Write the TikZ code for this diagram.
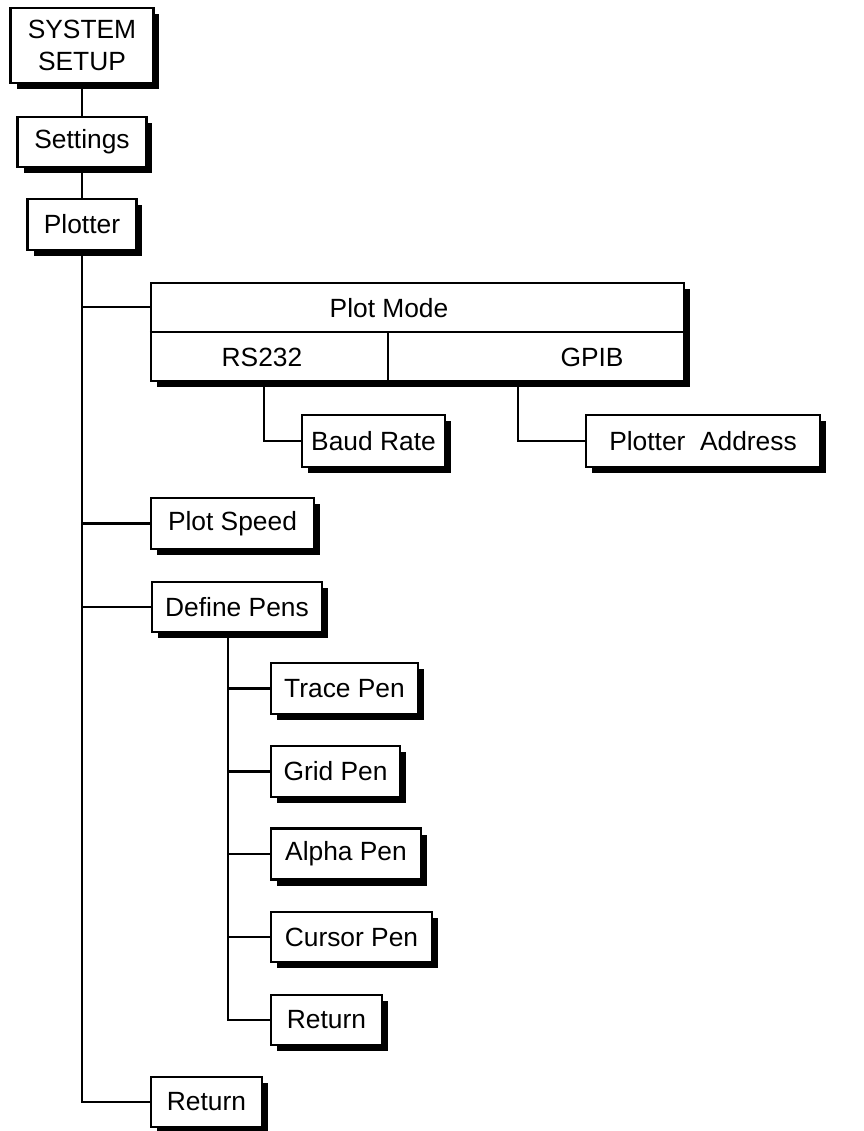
\documentclass[tikz,border=0pt]{standalone}
\usepackage{fontspec}
\setmainfont{Liberation Sans}
\usetikzlibrary{calc,shadows}
\definecolor{Ink}{HTML}{000000}
\tikzset{
  menu/.style={
    draw=Ink, line width=1.3pt, fill=white, inner sep=0pt, align=center,
    font=\fontsize{15}{18}\selectfont,
    drop shadow={shadow xshift=0.12cm, shadow yshift=-0.12cm, opacity=1, fill=Ink}
  },
  label/.style={inner sep=0pt, font=\fontsize{15}{18}\selectfont},
  link/.style={draw=Ink, line width=1.3pt}
}
\begin{document}
\begin{tikzpicture}[x=0.02cm,y=-0.02cm]
  \useasboundingbox (0,0) rectangle (863,1131);
  % main chain
  \node[menu,minimum width=2.86cm,minimum height=1.50cm] (setup) at (82,45.5) {SYSTEM\\SETUP};
  \node[menu,minimum width=2.58cm,minimum height=1.00cm] (settings) at (82,142) {Settings};
  \node[menu,minimum width=2.18cm,minimum height=1.02cm] (plotter) at (82,224.5) {Plotter};
  \draw[link] (setup) -- (settings);
  \draw[link] (settings) -- (plotter);
  % plot mode block
  \node[menu,minimum width=10.66cm,minimum height=1.96cm] (mode) at (417.5,332) {};
  \coordinate (modein) at ($(mode.north west)!.5!(mode.west)$);
  \coordinate (split) at ($(mode.south west)+(238,0)$);
  \draw[link] (mode.west) -- (mode.east);
  \draw[link] (split) -- (split |- mode.center);
  \node[label] (modett) at (389,308) {Plot Mode};
  \node[label] (rs) at (262,357) {RS232};
  \node[label] (gpib) at (592,357) {GPIB};
  \node[menu,minimum width=2.86cm,minimum height=1.04cm] (baud) at (373.5,441) {Baud Rate};
  \node[menu,minimum width=4.68cm,minimum height=1.04cm] (addr) at (703,441) {Plotter~~Address};
  \coordinate (rsdrop) at ($(mode.south west)+(114,0)$);
  \coordinate (gpdrop) at ($(mode.south west)+(368,0)$);
  \draw[link] (rsdrop) |- (baud.west);
  \draw[link] (gpdrop) |- (addr.west);
  % other entries
  \node[menu,minimum width=3.26cm,minimum height=1.02cm] (speed) at (232.5,523.5) {Plot Speed};
  \node[menu,minimum width=3.40cm,minimum height=1.00cm] (pens) at (237,607) {Define Pens};
  \node[menu,minimum width=2.22cm,minimum height=1.00cm] (ret) at (206.5,1102) {Return};
  \draw[link] (plotter.south) |- (ret.west);
  \draw[link] (plotter.south |- modein) -- (modein);
  \foreach \n in {speed,pens}
    \draw[link] (plotter.south |- \n.west) -- (\n.west);
  % pens submenu
  \node[menu,minimum width=2.94cm,minimum height=1.02cm] (trace) at (344.5,688.5) {Trace Pen};
  \node[menu,minimum width=2.58cm,minimum height=1.02cm] (grid) at (335.5,771.5) {Grid Pen};
  \node[menu,minimum width=3.00cm,minimum height=1.02cm] (alpha) at (346,854) {Alpha Pen};
  \node[menu,minimum width=3.22cm,minimum height=1.00cm] (cursor) at (351.5,937) {Cursor Pen};
  \node[menu,minimum width=2.22cm,minimum height=1.00cm] (subret) at (326.5,1020) {Return};
  \coordinate (pdrop) at ($(pens.south)+(-9,0)$);
  \draw[link] (pdrop) |- (subret.west);
  \foreach \n in {trace,grid,alpha,cursor}
    \draw[link] (pdrop |- \n.west) -- (\n.west);
\end{tikzpicture}
\end{document}
